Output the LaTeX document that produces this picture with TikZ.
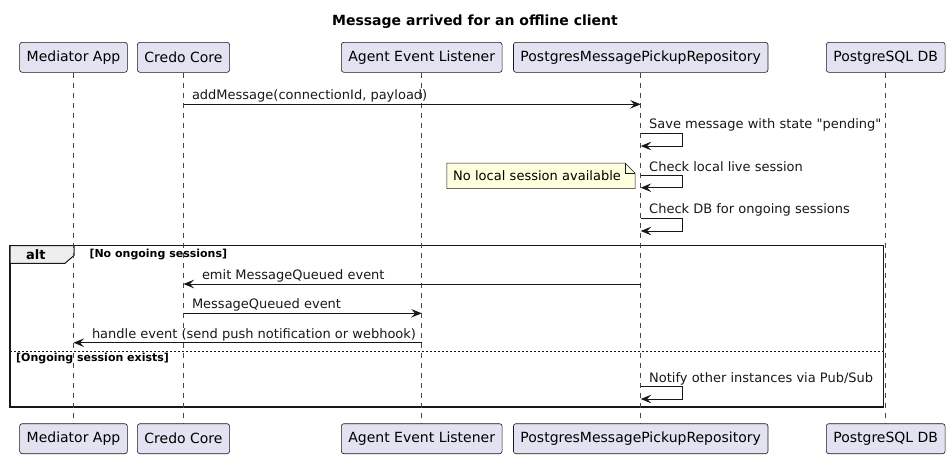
\documentclass[tikz,border=0pt]{standalone}
\usepackage{fontspec}
\setmainfont{DejaVu Sans}[Ligatures=TeXOff]
\usetikzlibrary{arrows.meta}

\definecolor{partfill}{HTML}{E2E2F0}
\definecolor{umlline}{HTML}{181818}
\definecolor{notefill}{HTML}{FEFFDD}
\definecolor{altfill}{HTML}{EEEEEE}

\tikzset{
  part/.style={draw=umlline, fill=partfill, rounded corners=2.5pt, line width=0.6pt,
    minimum height=30pt, inner xsep=7pt, font=\fontsize{14}{16}\selectfont},
  life/.style={umlline!80, line width=0.5pt, dash pattern=on 5pt off 5pt},
  msg/.style={umlline, line width=1pt, -{Stealth[length=10.5pt,width=8.5pt,inset=4pt]}},
  lbl/.style={anchor=base west, inner sep=0pt, font=\fontsize{13}{15}\selectfont},
  guard/.style={anchor=base west, inner sep=0pt, font=\fontsize{11}{13}\selectfont\bfseries},
  notebox/.style={minimum height=25pt, inner xsep=6pt, text width=175.7pt, align=left,
    font=\fontsize{13}{15}\selectfont},
}

\begin{document}
\begin{tikzpicture}[x=1pt,y=-1pt]
\useasboundingbox (0,0) rectangle (951,458);

\node[font=\fontsize{14}{16}\selectfont\bfseries] (title) at (475,22) {Message arrived for an offline client};

% participants
\node[part] (med) at (73.5,57.3) {Mediator App};
\node[part] (credo) at (183.5,57.3) {Credo Core};
\node[part] (agent) at (421.7,57.3) {Agent Event Listener};
\node[part] (repo) at (640.7,57.3) {PostgresMessagePickupRepository};
\node[part] (db) at (885.7,57.3) {PostgreSQL DB};
\node[part] (med-b) at (73.5,438.7) {Mediator App};
\node[part] (credo-b) at (183.5,438.7) {Credo Core};
\node[part] (agent-b) at (421.7,438.7) {Agent Event Listener};
\node[part] (repo-b) at (640.7,438.7) {PostgresMessagePickupRepository};
\node[part] (db-b) at (885.7,438.7) {PostgreSQL DB};

% alt frame
\coordinate (altnw) at (10,245.7);
\coordinate (altse) at (883.5,407);
\draw[umlline, line width=1.5pt] (altnw) rectangle (altse);
\filldraw[fill=altfill, draw=umlline, line width=1pt] (altnw) -- ++(64,0) -- ++(0,9.8) -- ++(-9,7.8) -| cycle;
\node[anchor=base west, inner sep=0pt, font=\fontsize{13}{15}\selectfont\bfseries] (altlbl) at (26,259) {alt};
\node[guard] (guard1) at (89.3,257.5) {[No ongoing sessions]};
\draw[umlline, line width=0.8pt, dash pattern=on 2pt off 2pt] (altnw |- 0,351.7) -- (altse |- 0,351.7);
\node[guard] (guard2) at (16,361.5) {[Ongoing session exists]};

% lifelines
\foreach \p in {med,credo,agent,repo,db}
  \draw[life] (\p.south) -- (\p-b.north);

% message rows
\coordinate (r1) at (0,104.3);
\coordinate (s1) at (0,133.3);
\coordinate (s2) at (0,175.7);
\coordinate (s3) at (0,218.3);
\coordinate (r5) at (0,284);
\coordinate (r6) at (0,313.3);
\coordinate (r7) at (0,342.7);
\coordinate (s4) at (0,386.7);

\draw[msg] (credo |- r1) -- node[lbl, at start, xshift=8pt, yshift=5pt] {addMessage(connectionId, payload)} (repo |- r1);
\draw[msg] (repo |- s1) node[lbl, xshift=8pt, yshift=4.5pt] {Save message with state "pending"} -- ++(42,0) -- ++(0,12.7) -- ++(-42,0);
\draw[msg] (repo |- s2) node[lbl, xshift=8pt, yshift=4.5pt] {Check local live session} -- ++(42,0) -- ++(0,12) -- ++(-42,0);
\draw[msg] (repo |- s3) node[lbl, xshift=8pt, yshift=4.5pt] {Check DB for ongoing sessions} -- ++(42,0) -- ++(0,12.7) -- ++(-42,0);

% note
\node[notebox, anchor=east] (nolocal) at (635,175.8) {\phantom{No local session available}};
\filldraw[fill=notefill, draw=umlline, line width=0.5pt] (nolocal.south west) -- (nolocal.north west) -- ([xshift=-10pt]nolocal.north east) -- ([yshift=-10pt]nolocal.north east) -- (nolocal.south east) -- cycle;
\draw[umlline, line width=0.5pt] ([xshift=-10pt]nolocal.north east) |- ([yshift=-10pt]nolocal.north east);
\node[notebox] (nolocaltxt) at (nolocal) {No local session available};

\draw[msg] (repo |- r5) -- node[lbl, at end, xshift=18pt, yshift=4.5pt] {emit MessageQueued event} (credo |- r5);
\draw[msg] (credo |- r6) -- node[lbl, at start, xshift=8pt, yshift=4.5pt] {MessageQueued event} (agent |- r6);
\draw[msg] (agent |- r7) -- node[lbl, at end, xshift=18pt, yshift=4.5pt] {handle event (send push notification or webhook)} (med |- r7);
\draw[msg] (repo |- s4) node[lbl, xshift=8pt, yshift=4.5pt] {Notify other instances via Pub/Sub} -- ++(42,0) -- ++(0,12.3) -- ++(-42,0);
\end{tikzpicture}
\end{document}
